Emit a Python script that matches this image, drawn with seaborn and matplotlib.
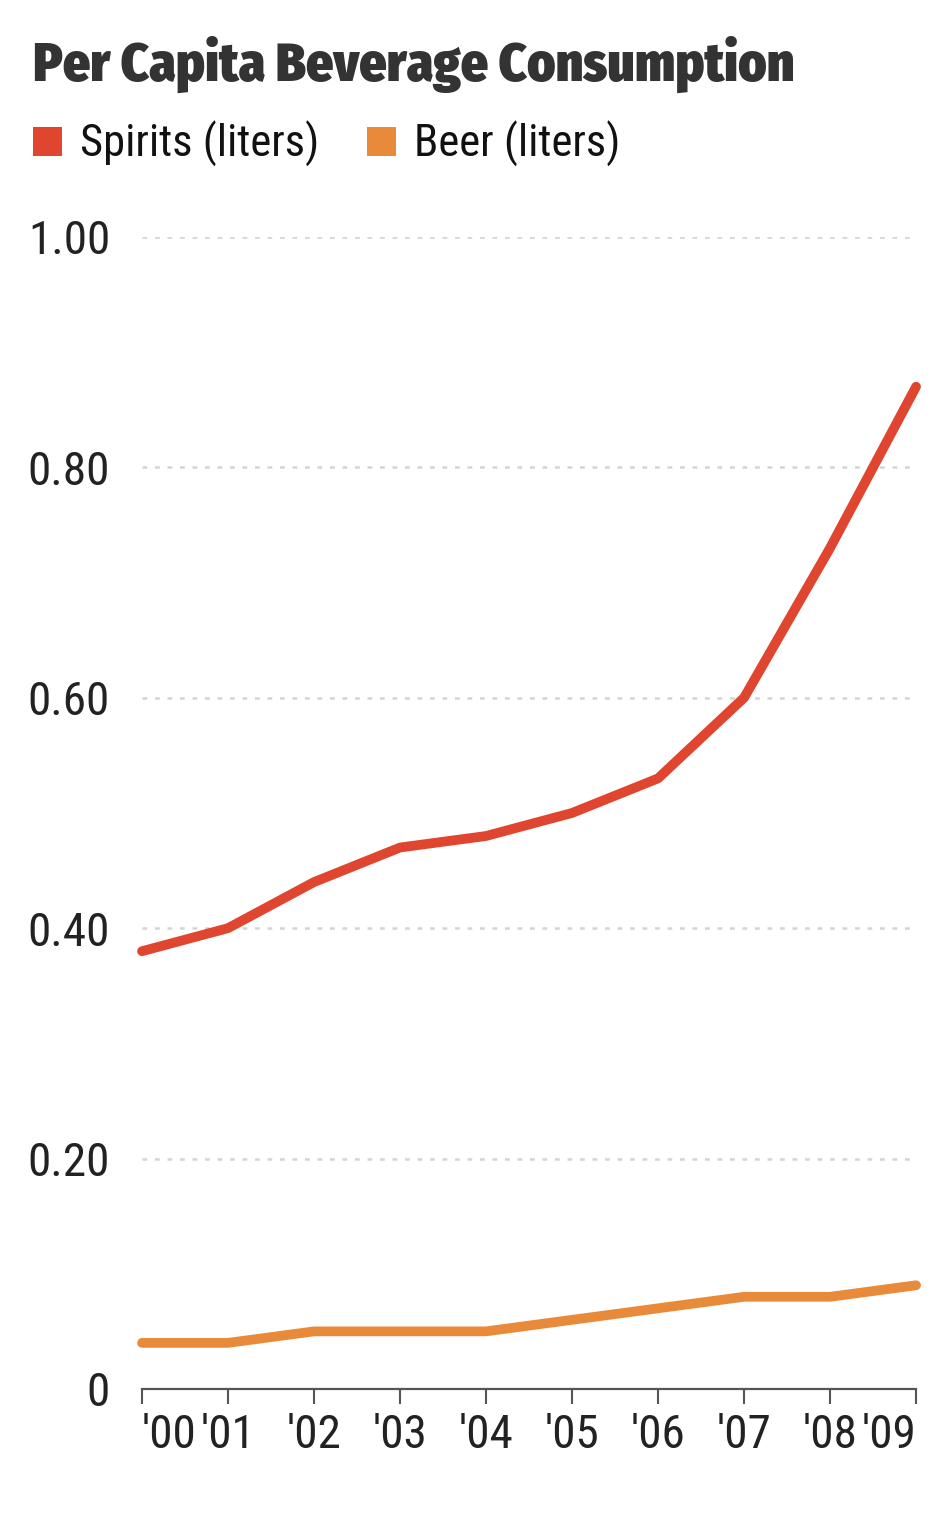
import pandas as pd
import seaborn as sns
import matplotlib.pyplot as plt
from matplotlib.patches import Patch

# Values
years = ["'00", "'01", "'02", "'03", "'04", "'05", "'06", "'07", "'08", "'09"]
spirits = [0.38, 0.40, 0.44, 0.47, 0.48, 0.50, 0.53, 0.60, 0.73, 0.87]
beer = [0.04, 0.04, 0.05, 0.05, 0.05, 0.06, 0.07, 0.08, 0.08, 0.09]
y_ticks = [0, 0.2, 0.4, 0.6, 0.8, 1.0]
y_tick_labels = ['0', '0.20', '0.40', '0.60', '0.80', '1.00']
series_names = ['Spirits (liters)', 'Beer (liters)']

colors = {'Spirits (liters)': '#e0452f', 'Beer (liters)': '#e98a3a'}

df = pd.DataFrame({
    'idx': list(range(len(years))) * 2,
    'value': spirits + beer,
    'series': [series_names[0]] * len(years) + [series_names[1]] * len(years),
})

sns.set_style('white')
# condensed sans, falls back to DejaVu Sans if missing
plt.rcParams['font.family'] = ['Roboto Condensed', 'DejaVu Sans']

fig = plt.figure(figsize=(9.48, 15.16), dpi=100)
ax = fig.add_axes([0.1498, 0.0838, 0.8165, 0.7599])

sns.lineplot(data=df, x='idx', y='value', hue='series', palette=colors,
             linewidth=7, ax=ax, legend=False, solid_capstyle='round')
for line in ax.lines:
    line.set_clip_on(False)
    line.set_solid_joinstyle('round')

ax.set_xlim(0, len(years) - 1)
ax.set_ylim(0, 1.0)
ax.set_yticks(y_ticks)
ax.set_yticklabels(y_tick_labels)
ax.set_xticks(range(len(years)))
ax.set_xticklabels(years)
# first label starts at its tick, last label ends at its tick
xlabels = ax.get_xticklabels()
xlabels[0].set_ha('left')
xlabels[-1].set_ha('right')
ax.set_xlabel('')
ax.set_ylabel('')

# dotted gridlines (not at zero)
for v in y_ticks[1:]:
    ax.axhline(v, color='#d4d4d4', linewidth=1.8, linestyle=(0, (1.9, 3.1)), zorder=0)

for s in ['top', 'right', 'left']:
    ax.spines[s].set_visible(False)
ax.spines['bottom'].set_color('#555555')
ax.spines['bottom'].set_linewidth(1.6)
ax.tick_params(axis='x', bottom=True, length=11, width=1.5, color='#555555', pad=6,
               labelsize=34, labelcolor='#222222', direction='out')
ax.tick_params(axis='y', left=False, length=0, pad=23, labelsize=34, labelcolor='#222222')

fig.text(0.035, 0.947, 'Per Capita Beverage Consumption', fontsize=38.5,
         fontweight='black', color='#333333', va='baseline',
         family=['Fira Sans Condensed', 'Roboto Condensed', 'DejaVu Sans'])

handles = [Patch(facecolor=colors[n], edgecolor='none') for n in series_names]
leg = fig.legend(handles, series_names, loc='lower left', bbox_to_anchor=(0.035, 0.8897),
                 ncol=2, frameon=False, fontsize=32, handlelength=0.65, handleheight=0.65,
                 handletextpad=0.405, columnspacing=1.08, borderaxespad=0, borderpad=0)
for t in leg.get_texts():
    t.set_color('#111111')

fig.savefig('out.png', dpi=100, facecolor='white')
